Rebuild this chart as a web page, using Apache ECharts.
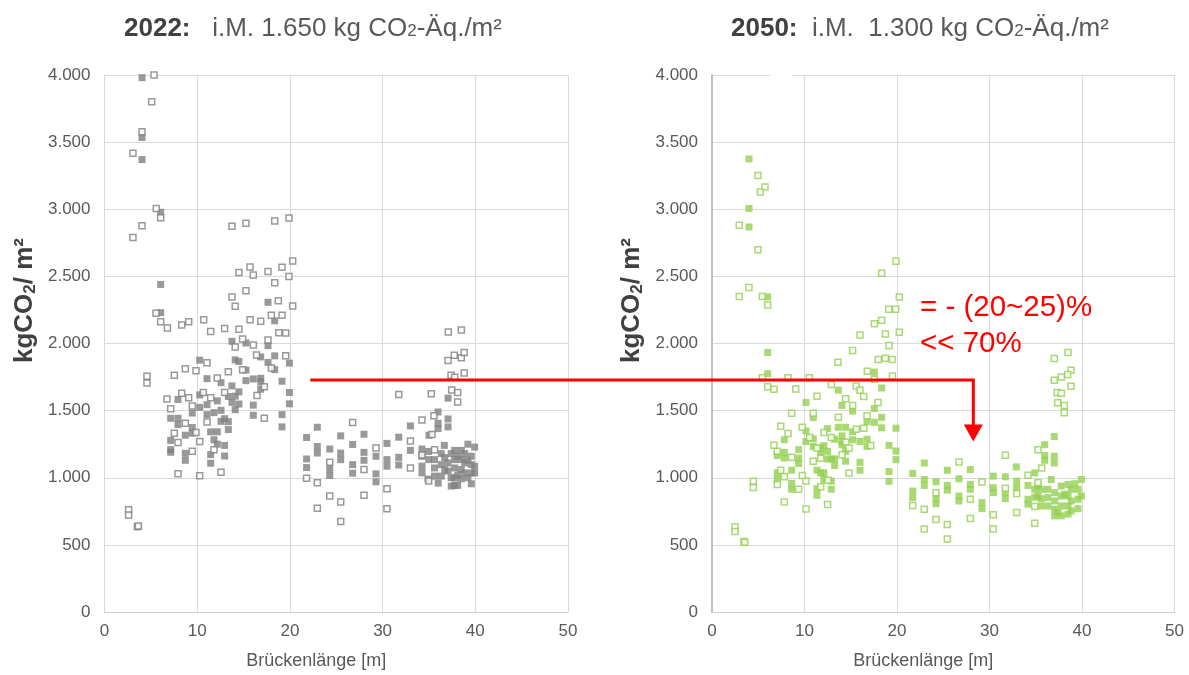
<!DOCTYPE html>
<html>
<head>
<meta charset="utf-8">
<script src="https://cdn.jsdelivr.net/npm/echarts@6/dist/echarts.min.js"></script>
<style>
html,body{margin:0;padding:0;background:#fff;}
#main{width:1189px;height:675px;}
</style>
</head>
<body>
<div id="main"></div>
<script>
// ---- DATA ----
const xTickLabels = ['0','10','20','30','40','50'];
const yTickLabels = ['0','500','1.000','1.500','2.000','2.500','3.000','3.500','4.000'];

const filled2022 = [
[4.05,3980],[4.05,3535],[4.05,3370],[6.06,2977],[6.06,2440],[17.64,2307],[6.06,2230],[18.36,2169],[13.75,2016],[15.26,2004],[17.64,1984],
[16.85,1900],[18.36,1908],[17.64,1859],[19.95,1854],[14.1,1878],[14.5,1866],[10.27,1876],[18.36,1805],[15.26,1802],[11.06,1738],[12.57,1708],
[13.75,1684],[15.26,1723],[16.05,1736],[16.85,1741],[16.85,1715],[16.85,1660],[19.15,1719],[19.95,1635],[19.95,1551],[16.05,1541],[16.05,1465],
[19.15,1470],[19.15,1379],[14.5,1640],[14.1,1608],[13.36,1605],[13.75,1561],[14.5,1549],[14.1,1507],[12.17,1573],[11.06,1544],[10.27,1617],
[7.93,1583],[9.47,1482],[10.27,1524],[11.06,1470],[11.81,1485],[12.57,1502],[12.57,1420],[12.96,1440],[13.36,1418],[13.36,1359],[7.14,1443],
[7.93,1443],[7.93,1396],[9.47,1374],[9.47,1332],[8.72,1317],[7.14,1278],[11.45,1342],[12.17,1342],[11.81,1283],[12.17,1250],[12.96,1241],
[7.14,1209],[7.14,1190],[8.72,1182],[8.72,1130],[11.45,1172],[11.45,1108],[12.96,1162],
[21.8,1300],[22.96,1376],[22.96,1233],[22.96,1184],[21.8,1140],[21.8,1076],
[35.98,1490],[33.0,1386],[35.98,1406],[35.98,1366],[37.06,1438],[37.06,1379],[37.06,1593],[35.0,1317],[31.74,1302],[30.47,1256],[33.0,1204],
[31.74,1152],[31.74,1095],[30.47,1135],[30.47,1086],[29.29,1029],[29.29,970],[29.29,1160],[27.99,1324],[27.99,1189],[27.99,1130],[26.77,1248],
[26.77,1098],[26.77,1034],[25.48,1312],[25.48,1184],[25.48,1135],[24.3,1214],[24.3,1066],[24.3,1017],
[34.25,1214],[34.25,1160],[34.25,1086],[34.25,1036],[34.97,1196],[34.97,1135],[35.6,1135],[35.6,1073],[35.6,1012],[34.9,990],[36.33,1180],
[36.66,1241],[36.33,1098],[36.33,1012],[37.06,1110],[37.06,1049],[37.77,1204],[37.77,1135],[37.77,1073],[37.77,999],[37.77,943],[38.49,1204],
[38.49,1135],[38.49,1061],[38.49,992],[38.1,943],[39.2,1250],[38.86,1180],[38.86,1110],[38.86,1036],[39.57,1160],[39.57,1098],[39.57,1036],
[39.57,955],[39.93,1228],[39.93,1086],[39.93,1036],[37.41,938],[36.7,1150],[37.4,1180],[38.1,1160],[38.1,1020],[39.2,1000],[39.2,1130],
[36.7,1060],[37.4,1000],[36.0,960]
];

const hollow2022 = [
[5.34,4000],[5.09,3801],[4.05,3577],[3.07,3417],[5.59,3006],[6.06,2937],[4.05,2878],[3.07,2790],[13.75,2873],[15.26,2895],[18.36,2912],
[19.9,2934],[20.3,2615],[15.7,2570],[14.5,2528],[16.05,2511],[17.64,2536],[19.15,2568],[19.9,2499],[18.36,2452],[15.26,2393],[13.75,2346],
[14.1,2277],[18.75,2319],[20.3,2280],[5.56,2225],[6.06,2162],[6.78,2115],[8.33,2137],[9.08,2162],[10.7,2176],[11.45,2090],[12.96,2112],
[14.5,2107],[15.7,2176],[16.85,2166],[18.0,2211],[19.15,2211],[18.8,2081],[19.55,2078],[14.9,2034],[14.1,1974],[16.05,1989],[17.64,2026],
[16.4,1915],[19.55,1908],[11.06,1856],[18.0,1817],[14.9,1805],[13.36,1790],[9.87,1797],[8.72,1812],[7.53,1763],[4.58,1756],[4.58,1706],
[12.17,1743],[17.24,1677],[16.45,1612],[17.24,1443],[12.96,1635],[11.45,1595],[10.66,1635],[8.33,1630],[9.08,1595],[6.74,1586],[7.14,1514],
[9.47,1534],[11.06,1416],[8.72,1406],[9.87,1337],[7.53,1332],[7.93,1263],[10.27,1270],[11.81,1209],[9.47,1197],[7.93,1029],[10.27,1014],
[12.57,1041],[2.6,761],[2.6,722],[3.55,635],[3.65,640],
[21.8,997],[22.96,962],[22.96,773],
[37.09,2085],[38.49,2100],[37.06,1874],[37.73,1913],[38.49,1893],[38.8,1933],[38.8,1780],[37.38,1763],[37.77,1748],[37.45,1654],[38.1,1635],
[38.1,1564],[31.74,1620],[35.25,1625],[35.54,1462],[34.25,1431],[35.32,1322],[33.0,1273],[33.0,1073],[30.47,918],[30.47,770],[29.29,1221],
[27.99,869],[27.99,1061],[26.77,1411],[25.48,820],[25.48,674],[24.3,1115],[24.3,864],[34.25,1170],[34.97,975],[35.6,1209]
];

const filled2050 = [
[4.0,3375],[4.0,3006],[4.0,2868],[6.02,2347],[6.02,1933],[17.55,1787],[6.02,1775],[13.66,1652],[18.34,1669],[10.16,1561],[14.05,1539],
[15.2,1497],[17.55,1516],[10.95,1448],[16.76,1418],[17.55,1413],[18.34,1450],[18.34,1372],[19.89,1369],[10.16,1349],[7.82,1283],[10.16,1270],
[10.95,1290],[12.5,1366],[13.66,1376],[14.45,1376],[14.05,1312],[15.2,1342],[15.2,1283],[16.0,1270],[16.76,1287],[16.76,1233],[13.26,1287],
[14.05,1270],[14.05,1246],[14.45,1197],[14.45,1123],[16.0,1115],[16.0,1056],[19.14,1241],[19.89,1199],[19.89,1135],[19.14,1046],[19.14,973],
[21.7,1032],[21.7,901],[21.7,852],[10.95,1233],[11.75,1221],[12.1,1239],[11.75,1180],[12.5,1197],[12.5,1140],[12.9,1140],[13.26,1140],
[13.26,1091],[11.35,1056],[11.75,1036],[12.1,1036],[12.1,987],[12.9,975],[12.9,914],[11.35,918],[11.35,869],[9.37,1209],[9.37,1147],
[9.37,1106],[8.61,1056],[8.61,958],[8.61,914],[7.82,1189],[7.82,1147],[7.06,1165],[7.06,1036],[7.06,987],
[37.0,1307],[35.97,1246],[35.97,1165],[35.97,1130],[37.0,1160],[37.0,1110],[32.9,1081],[34.89,1036],[36.68,987],[39.93,987],[30.41,1012],
[31.71,1007],[29.19,815],[29.19,770],[30.41,926],[30.41,889],[31.71,889],[31.71,844],[32.94,975],[32.94,926],[27.93,1061],[27.93,950],
[27.93,914],[26.7,992],[26.7,864],[26.7,827],[25.44,1056],[25.44,943],[25.44,908],[24.22,970],[24.22,847],[24.22,807],[22.95,1110],
[22.95,987],[22.95,943],
[34.16,943],[34.16,840],[34.16,803],[34.89,914],[34.89,855],[35.24,938],[35.24,864],[35.6,914],[35.6,844],[35.6,790],[36.32,914],[36.32,852],
[36.32,790],[37.05,889],[37.05,827],[37.05,766],[37.05,716],[37.76,938],[37.76,864],[37.76,790],[37.76,716],[37.41,741],[38.49,950],
[38.49,864],[38.49,790],[38.49,729],[38.84,914],[38.84,827],[38.84,753],[39.57,914],[39.57,840],[39.57,770],[39.93,864],[39.21,955],[38.12,877]
];

const hollow2050 = [
[4.97,3252],[5.73,3166],[5.22,3129],[2.95,2881],[4.97,2698],[4.0,2418],[2.95,2351],[5.44,2351],[6.02,2287],[19.89,2612],[18.34,2524],
[20.25,2347],[19.1,2255],[19.86,2255],[18.34,2174],[17.55,2147],[16.0,2063],[18.74,2070],[20.25,2083],[19.14,1985],[15.2,1948],
[13.62,1861],[17.98,1881],[18.74,1891],[19.5,1881],[16.79,1793],[17.55,1733],[19.5,1758],[5.44,1745],[8.22,1745],[10.52,1745],[6.02,1677],
[6.7,1660],[9.05,1662],[12.9,1694],[15.6,1684],[16.0,1652],[16.4,1605],[11.35,1608],[14.45,1588],[15.2,1539],[17.95,1561],[8.61,1480],
[10.95,1480],[13.66,1450],[16.76,1462],[7.43,1383],[9.76,1376],[8.22,1329],[10.56,1300],[12.1,1337],[15.6,1361],[16.4,1369],[17.16,1241],
[12.9,1300],[14.45,1265],[14.81,1221],[14.05,1172],[14.81,1036],[11.35,1221],[11.75,1145],[10.95,1123],[12.54,982],[11.75,933],[12.5,800],
[10.16,975],[9.76,1017],[10.16,768],[8.61,1152],[9.37,914],[7.06,1197],[6.7,1243],[7.43,1056],[7.82,1007],[7.06,950],[7.82,820],[4.47,973],
[4.47,928],[2.49,635],[2.49,600],[3.45,525],[3.55,520],[21.7,793],
[37.0,1889],[38.49,1933],[38.81,1800],[38.45,1770],[37.76,1750],[37.0,1726],[38.81,1682],[37.33,1635],[37.76,1630],[37.37,1558],[38.09,1539],
[38.09,1485],[35.24,1209],[35.64,1073],[31.71,1167],[34.16,1019],[29.19,968],[31.71,921],[32.94,882],[32.94,741],[30.41,724],[30.41,618],
[27.93,840],[27.93,697],[26.7,1118],[25.44,652],[25.44,544],[24.22,889],[24.22,689],[22.95,766],[22.95,618],[34.89,785],[34.89,662],[35.24,962]
];

// annotation anchor values (data coordinates)
const arrowStart2022 = [22.2, 1728];
const arrowCorner2050 = [28.25, 1728];
const arrowTip2050 = [28.25, 1270];
const annoLines = ['= - (20~25)%', '<< 70%'];

// ---- CHART ----
const FONT = "'Liberation Sans', Arial, sans-serif";
const TXT = '#595959';
const GRAY = '#7f7f7f';
const GREEN = '#92d050';

const chart = echarts.init(document.getElementById('main'), null, {renderer:'canvas'});

function xAxisCfg(idx){
  return {
    gridIndex: idx, type:'value', min:0, max:50, interval:10,
    axisLine:{show:true, lineStyle:{color:'#d0d0d0', width:1}},
    axisTick:{show:false},
    splitLine:{show:true, lineStyle:{color:'#d9d9d9', width:1}},
    axisLabel:{color:TXT, fontSize:17, fontFamily:FONT, margin:11,
      formatter:(v)=>xTickLabels[Math.round(v/10)]},
    name:'Brückenlänge [m]', nameLocation:'middle', nameGap:40,
    nameTextStyle:{color:TXT, fontSize:18, fontFamily:FONT, padding:[0,40,0,0]}
  };
}
function yAxisCfg(idx, lineColor, lineWidth){
  return {
    gridIndex: idx, type:'value', min:0, max:4000, interval:500,
    axisLine:{show:true, lineStyle:{color:lineColor, width:lineWidth}},
    axisTick:{show:false},
    splitLine:{show:true, lineStyle:{color:'#d9d9d9', width:1}},
    axisLabel:{color:TXT, fontSize:17, fontFamily:FONT, margin:14,
      formatter:(v)=>yTickLabels[Math.round(v/500)]},
    name:'{a|kgCO}{s|2}{a|/ m²}', nameLocation:'middle', nameRotate:90, nameGap:66,
    nameTextStyle:{
      padding:[0,0,0,86],
      rich:{
        a:{fontSize:26, fontWeight:'bold', color:'#404040', fontFamily:FONT},
        s:{fontSize:17, fontWeight:'bold', color:'#404040', fontFamily:FONT, padding:[11,0,0,0]}
      }
    }
  };
}
function scatter(idx, data, color, hollow){
  return {
    type:'scatter', xAxisIndex:idx, yAxisIndex:idx, data:data,
    symbol:'rect', symbolSize: hollow ? 6 : 7,
    itemStyle: hollow ? {color:'#ffffff', borderColor:color, borderWidth:1.5}
                      : {color:color},
    emphasis:{disabled:true}, silent:true
  };
}
function titleCfg(left, year, val){
  return {
    left:left, top:11,
    text:'{b|'+year+':}{n|'+val+' kg CO}{s|2}{n|-Äq./m²}',
    textStyle:{
      fontWeight:'normal',
      rich:{
        b:{fontSize:26, fontWeight:'bold', color:'#404040', fontFamily:FONT},
        n:{fontSize:26, fontWeight:'normal', color:TXT, fontFamily:FONT},
        s:{fontSize:17, fontWeight:'normal', color:TXT, fontFamily:FONT, padding:[5,0,0,0]}
      }
    }
  };
}

const option = {
  animation:false,
  backgroundColor:'#ffffff',
  title:[ titleCfg(119,'2022','   i.M. 1.650'), titleCfg(726,'2050','  i.M.  1.300') ],
  grid:[
    {left:104.5, top:75, width:463.5, height:542},
    {left:712, top:75, width:462.5, height:542}
  ],
  xAxis:[ xAxisCfg(0), xAxisCfg(1) ],
  yAxis:[ yAxisCfg(0,'#d9d9d9',1), yAxisCfg(1,'#bfbfbf',2) ],
  series:[
    scatter(0, filled2022, GRAY, false),
    scatter(0, hollow2022, GRAY, true),
    scatter(1, filled2050, GREEN, false),
    scatter(1, hollow2050, GREEN, true)
  ]
};
chart.setOption(option);

// annotation arrow, positioned through the axes
const p0 = chart.convertToPixel({gridIndex:0}, arrowStart2022);
const p1 = chart.convertToPixel({gridIndex:1}, arrowCorner2050);
const p2 = chart.convertToPixel({gridIndex:1}, arrowTip2050);
const headLen = 17, headHalf = 9.5;
chart.setOption({
  graphic:[
    {type:'rect', shape:{x:770, y:72, width:22, height:6}, style:{fill:'#ffffff'}, z:10, silent:true},
    {type:'polyline', z:20, silent:true,
      shape:{points:[[p0[0],p0[1]],[p1[0],p1[1]],[p2[0],p2[1]-headLen+1]]},
      style:{stroke:'#ff0000', lineWidth:3, fill:null}},
    {type:'polygon', z:20, silent:true,
      shape:{points:[[p2[0]-headHalf,p2[1]-headLen],[p2[0]+headHalf,p2[1]-headLen],[p2[0],p2[1]]]},
      style:{fill:'#ff0000'}},
    {type:'text', z:20, silent:true, x:920, y:308,
      style:{text:annoLines[0], fill:'#ff0000', font:'29.5px '+FONT, verticalAlign:'middle', align:'left'}},
    {type:'text', z:20, silent:true, x:920, y:344,
      style:{text:annoLines[1], fill:'#ff0000', font:'29.5px '+FONT, verticalAlign:'middle', align:'left'}}
  ]
});
</script>
</body>
</html>
